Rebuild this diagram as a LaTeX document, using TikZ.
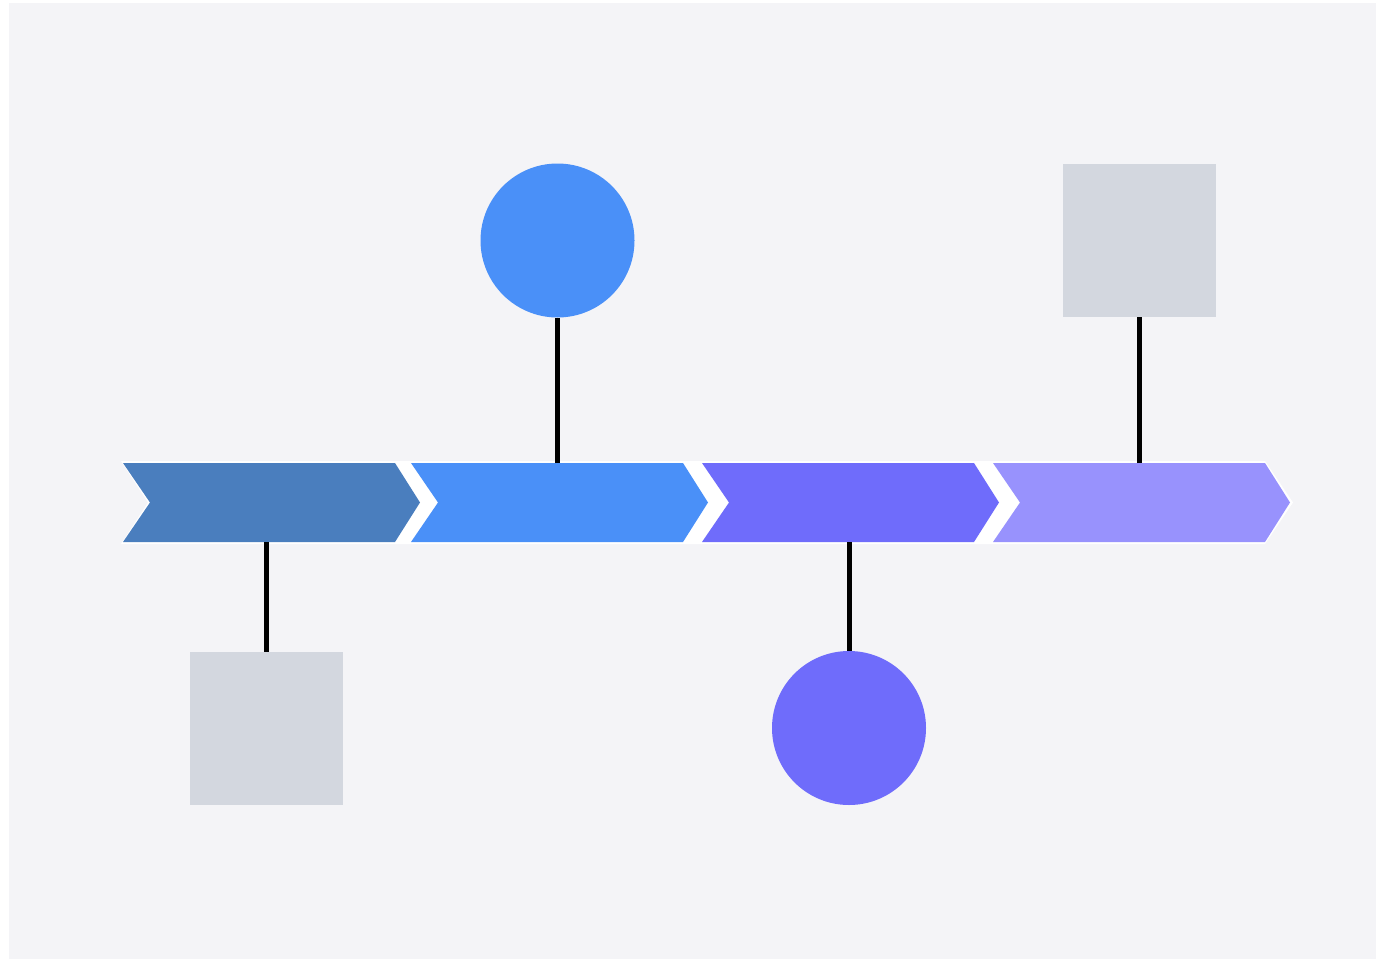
\documentclass[tikz,border=0pt]{standalone}
\usetikzlibrary{calc}
\definecolor{bgc}{HTML}{F4F4F7}
\definecolor{cone}{HTML}{4A7EBE}
\definecolor{ctwo}{HTML}{4A90F8}
\definecolor{cthree}{HTML}{6F6CFB}
\definecolor{cfour}{HTML}{9892FD}
\definecolor{boxg}{HTML}{D3D7DF}
\tikzset{
  conn/.style={black, line width=2.5pt},
  sqbox/.style={fill=boxg, draw=none, minimum size=76.5pt, inner sep=0pt, rectangle},
  dotc/.style={circle, draw=none, minimum size=77pt, inner sep=0pt},
}
\newcommand{\chev}[2]{%
  \fill[#2] (#1,463) -- ++(272,0) -- ++(25,39.5) -- ++(-25,39.5) -- ++(-272,0) -- ++(27,-39.5) -- cycle;}
\begin{document}
\begin{tikzpicture}[x=0.5pt,y=-0.5pt]
\useasboundingbox (0,0) rectangle (1376,959);
\fill[white] (0,0) rectangle (1376,959);
\fill[bgc] (9,3) rectangle (1376,959);
% white underlay strip
\fill[white] (121,461) -- (1265,461) -- (1293,502.5) -- (1265,544) -- (121,544) -- (148,502.5) -- cycle;
\chev{123}{cone}
\chev{411}{ctwo}
\chev{702}{cthree}
\chev{993}{cfour}
% markers
\node[sqbox] (s1) at (266.5,728.5) {};
\node[dotc, fill=ctwo] (c1) at (557.5,240.5) {};
\node[dotc, fill=cthree] (c2) at (849,728) {};
\node[sqbox] (s2) at (1139.5,240.5) {};
% anchor points on the strip
\coordinate (a1) at (s1.north |- 0,542);
\coordinate (a2) at (c1.south |- 0,463);
\coordinate (a3) at (c2.north |- 0,542);
\coordinate (a4) at (s2.south |- 0,463);
% connectors
\draw[conn] (a1) -- (s1.north);
\draw[conn] (a2) -- (c1.south);
\draw[conn] (a3) -- (c2.north);
\draw[conn] (a4) -- (s2.south);
\end{tikzpicture}
\end{document}
